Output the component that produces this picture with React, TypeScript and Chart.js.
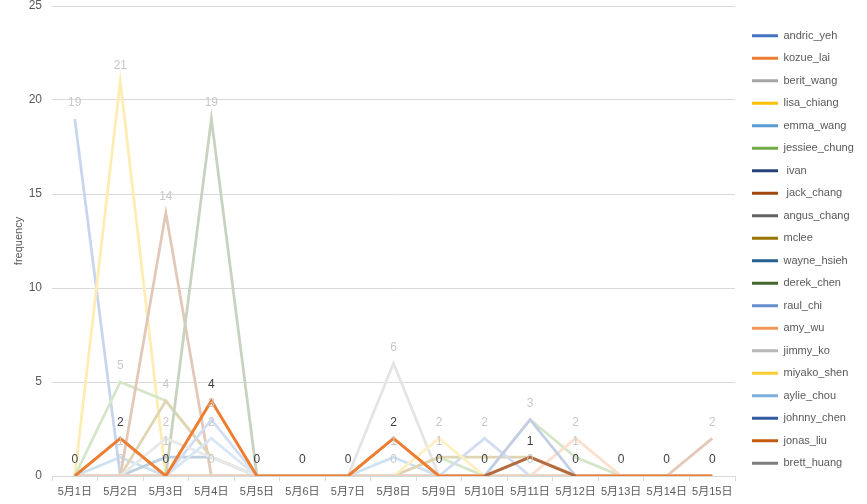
import React, { useEffect, useRef } from "react";
import { Chart, registerables } from "chart.js";

Chart.register(...registerables);

const categories = [
  "5月1日", "5月2日", "5月3日", "5月4日", "5月5日", "5月6日", "5月7日", "5月8日",
  "5月9日", "5月10日", "5月11日", "5月12日", "5月13日", "5月14日", "5月15日",
];

const seriesNames = [
  "andric_yeh", "kozue_lai", "berit_wang", "lisa_chiang", "emma_wang",
  "jessiee_chung", " ivan", " jack_chang", "angus_chang", "mclee",
  "wayne_hsieh", "derek_chen", "raul_chi", "amy_wu", "jimmy_ko",
  "miyako_shen", "aylie_chou", "johnny_chen", "jonas_liu", "brett_huang",
];

const seriesColors = [
  "#4472C4", "#ED7D31", "#A5A5A5", "#FFC000", "#5B9BD5",
  "#70AD47", "#264478", "#9E480E", "#636363", "#997300",
  "#255E91", "#43682B", "#698ED0", "#F1975A", "#B7B7B7",
  "#FFCD33", "#7CAFDD", "#335AA1", "#C55A11", "#7F7F7F",
];

// values per series (15 days); null = no entry that day
const andric_yeh = [19, 0, 0, 0, 0, 0, 0, 0, 0, 0, 0, 0, 0, 0, 0];
const kozue_lai = [0, 2, 0, 4, 0, 0, 0, 2, 0, 0, 1, 0, 0, 0, 0];
const berit_wang = [0, 0, 0, 0, 0, 0, 0, 6, 0, 0, 0, 0, 0, 0, 0];
const lisa_chiang = [0, 21, 0, 0, 0, 0, 0, 0, 0, 0, 0, 0, 0, 0, 0];
const emma_wang = [0, 1, 0, 0, 0, 0, 0, 1, 0, 0, 0, 0, 0, 0, 0];
const jessiee_chung = [0, 5, 4, 1, 0, 0, 0, 0, 1, 0, 3, 1, 0, 0, 0];
const ivan = [null, null, null, null, null, null, null, null, null, 0, 1, 0, null, null, null];
const jack_chang = [0, 0, 14, 0, 0, 0, 0, 0, 0, 0, 0, 0, 0, 0, 2];
const angus_chang = [0, 0, 0, 0, 0, 0, 0, 0, 0, 0, 0, 0, 0, 0, 0];
const mclee = [0, 0, 4, 1, 0, 0, 0, 0, 1, 1, 1, 0, 0, 0, 0];
const wayne_hsieh = [0, 0, 1, 1, 0, 0, 0, 0, 0, 0, 0, 0, 0, 0, 0];
const derek_chen = [0, 0, 0, 19, 0, 0, 0, 0, 0, 0, 0, 0, 0, 0, 0];
const raul_chi = [0, 0, 0, 3, 0, 0, 0, 0, 0, 2, 0, 0, 0, 0, 0];
const amy_wu = [0, 0, 0, 0, 0, 0, 0, 0, 0, 0, 0, 2, 0, 0, 0];
const jimmy_ko = [0, 0, 2, 1, 0, 0, 0, 0, 0, 0, 0, 0, 0, 0, 0];
const miyako_shen = [0, 0, 0, 0, 0, 0, 0, 0, 2, 0, 0, 0, 0, 0, 0];
const aylie_chou = [0, 0, 0, 2, 0, 0, 0, 0, 0, 0, 0, 0, 0, 0, 0];
const johnny_chen = [0, 0, 0, 0, 0, 0, 0, 0, 0, 0, 3, 0, 0, 0, 0];
const jonas_liu = [0, 0, 0, 0, 0, 0, 0, 0, 0, 0, 0, 0, 0, 0, 0];
const brett_huang = [0, 0, 0, 0, 0, 0, 0, 0, 0, 0, 0, 0, 0, 0, 0];

const seriesValues = [
  andric_yeh, kozue_lai, berit_wang, lisa_chiang, emma_wang,
  jessiee_chung, ivan, jack_chang, angus_chang, mclee,
  wayne_hsieh, derek_chen, raul_chi, amy_wu, jimmy_ko,
  miyako_shen, aylie_chou, johnny_chen, jonas_liu, brett_huang,
];

// which day indices carry a data label, per series
const allDays = categories.map((_, i) => i);
const seriesLabelDays = [
  [0], allDays, [7], [1], [1, 7],
  [1, 11], [], [2, 14], [], [2, 8],
  [2], [3], [3, 9], [11], [2],
  [8], [3], [10], [1, 3, 7, 10], [],
];

const yTicks = [0, 5, 10, 15, 20, 25];

const HIGHLIGHT = 1; // kozue_lai
const OVERLAY = 6; // ivan, drawn translucent above the highlighted line
const TINT = 0.3;

function rgb(hex: string) {
  const n = parseInt(hex.slice(1), 16);
  return [(n >> 16) & 255, (n >> 8) & 255, n & 255];
}
function tint(hex: string, a: number) {
  const [r, g, b] = rgb(hex);
  const m = (c: number) => Math.round(c * a + 255 * (1 - a));
  return `rgb(${m(r)},${m(g)},${m(b)})`;
}
function alpha(hex: string, a: number) {
  const [r, g, b] = rgb(hex);
  return `rgba(${r},${g},${b},${a})`;
}

const FONT = "'Liberation Sans', 'Noto Sans CJK JP', sans-serif";

const PLOT_RIGHT = 735;
const LEGEND_LEFT = 740.5;

const labelPlugin = {
  id: "pointValueLabels",
  afterLayout(chart: any) {
    const lg = chart.legend;
    if (lg) {
      const dx = LEGEND_LEFT - lg.left;
      lg.left += dx;
      lg.right += dx;
    }
  },
  afterDatasetsDraw(chart: any) {
    const ctx = chart.ctx;
    ctx.save();
    ctx.font = `12px ${FONT}`;
    ctx.textAlign = "center";
    ctx.textBaseline = "middle";
    const order = seriesValues.map((_, i) => i).filter((i) => i !== HIGHLIGHT);
    order.push(HIGHLIGHT);
    for (const i of order) {
      const meta = chart.getDatasetMeta(i);
      ctx.fillStyle = i === HIGHLIGHT ? "#404040" : "#c8c8c8";
      for (const j of seriesLabelDays[i]) {
        const pt = meta.data[j];
        const v = seriesValues[i][j];
        if (!pt || v === null) continue;
        ctx.fillText(String(v), pt.x, pt.y - 16);
      }
    }
    ctx.restore();
  },
};

function drawOrder(i: number) {
  if (i === OVERLAY) return -60;
  if (i === HIGHLIGHT) return -50;
  if (i === 18) return -30; // jonas_liu on top of the faded lines
  return -i;
}

export default function App() {
  const ref = useRef<HTMLCanvasElement | null>(null);

  useEffect(() => {
    if (!ref.current) return;
    const datasets = seriesNames.map((name, i) => ({
      label: name,
      data: seriesValues[i],
      borderColor:
        i === HIGHLIGHT
          ? seriesColors[i]
          : i === OVERLAY
          ? alpha(seriesColors[i], 0.3)
          : tint(seriesColors[i], TINT),
      backgroundColor: seriesColors[i],
      borderWidth: i === HIGHLIGHT ? 3 : 2.75,
      pointRadius: 0,
      pointHoverRadius: 0,
      tension: 0,
      fill: false,
      spanGaps: false,
      order: drawOrder(i),
    }));

    const chart = new Chart(ref.current, {
      type: "line",
      data: { labels: categories, datasets },
      plugins: [labelPlugin],
      options: {
        responsive: false,
        animation: false,
        events: [],
        layout: { padding: { left: 8, top: 0, right: 3, bottom: 0 } },
        plugins: {
          tooltip: { enabled: false },
          legend: {
            position: "right",
            align: "start",
            title: {
              display: true,
              text: "",
              font: { family: FONT, size: 11 },
              padding: { top: 0, bottom: 5.5 },
            },
            labels: {
              boxWidth: 26,
              boxHeight: 3,
              padding: 11.5,
              color: "#595959",
              font: { family: FONT, size: 11 },
              generateLabels: () =>
                seriesNames.map((name, i) => ({
                  text: name,
                  fillStyle: seriesColors[i],
                  strokeStyle: seriesColors[i],
                  lineWidth: 0,
                  hidden: false,
                  datasetIndex: i,
                  fontColor: "#595959",
                })),
            },
          },
        },
        scales: {
          x: {
            type: "category",
            offset: true,
            afterFit: (scale: any) => {
              scale.height = 28;
              scale.paddingRight = 867 - PLOT_RIGHT;
            },
            grid: {
              offset: true,
              drawOnChartArea: false,
              drawTicks: true,
              tickLength: 5,
              color: "#d9d9d9",
            },
            border: { display: true, color: "#d9d9d9" },
            ticks: {
              autoSkip: false,
              maxRotation: 0,
              minRotation: 0,
              padding: 4,
              color: "#595959",
              font: { family: FONT, size: 11 },
            },
          },
          y: {
            min: 0,
            max: 25,
            afterBuildTicks: (scale: any) => {
              scale.ticks = yTicks.map((v) => ({ value: v }));
            },
            afterFit: (scale: any) => {
              scale.width = 44;
              scale.paddingTop = 6;
              scale.paddingBottom = 0;
            },
            grid: { color: "#d9d9d9", drawTicks: false },
            border: { display: false },
            ticks: {
              padding: 10,
              color: "#595959",
              font: { family: FONT, size: 12 },
            },
            title: {
              display: true,
              text: "frequency",
              color: "#595959",
              font: { family: FONT, size: 11 },
            },
          },
        },
      },
    });
    return () => chart.destroy();
  }, []);

  return (
    <div style={{ position: "absolute", left: 0, top: 0, width: 867, height: 504, background: "#fff" }}>
      <canvas ref={ref} width={867} height={504} />
    </div>
  );
}
